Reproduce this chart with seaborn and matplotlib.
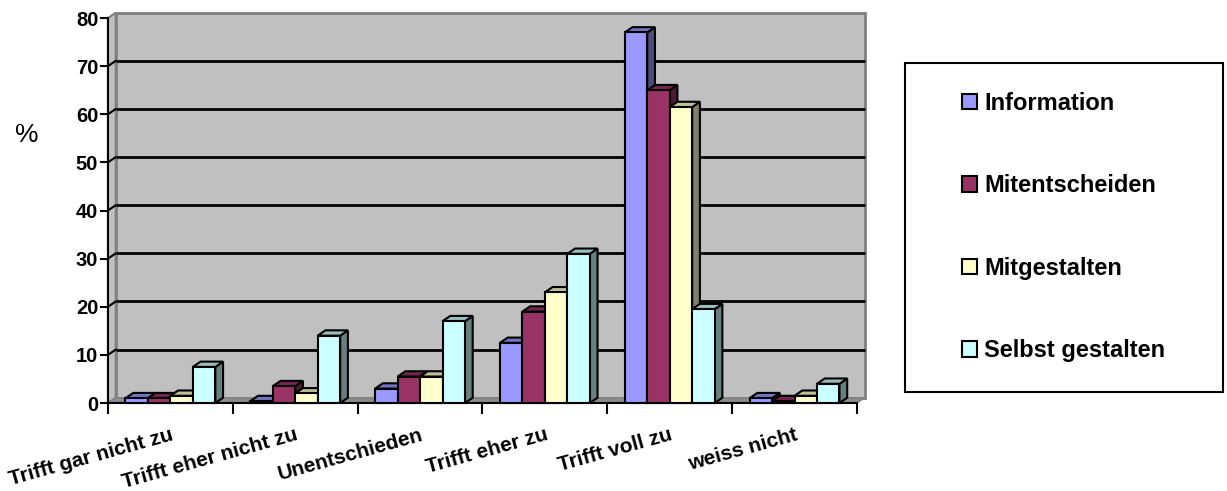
import numpy as np
import pandas as pd
import matplotlib
matplotlib.use("Agg")
import matplotlib.pyplot as plt
import seaborn as sns
from matplotlib.patches import Polygon, Patch, Rectangle
from matplotlib.colors import to_rgb

# Survey answers (percent) per participation level
categories = ["Trifft gar nicht zu", "Trifft eher nicht zu", "Unentschieden",
              "Trifft eher zu", "Trifft voll zu", "weiss nicht"]
series_names = ["Information", "Mitentscheiden", "Mitgestalten", "Selbst gestalten"]
information = [1.0, 0.4, 3.0, 12.5, 77.0, 1.0]
mitentscheiden = [1.0, 3.5, 5.5, 19.0, 65.0, 0.4]
mitgestalten = [1.5, 2.0, 5.5, 23.0, 61.5, 1.5]
selbst_gestalten = [7.5, 14.0, 17.0, 31.0, 19.5, 4.0]
y_ticks = [0, 10, 20, 30, 40, 50, 60, 70, 80]

palette = {"Information": "#9999FF", "Mitentscheiden": "#993366",
           "Mitgestalten": "#FFFFCC", "Selbst gestalten": "#CCFFFF"}

rows = []
for name, vals in zip(series_names, [information, mitentscheiden, mitgestalten, selbst_gestalten]):
    for cat, v in zip(categories, vals):
        rows.append({"Kategorie": cat, "Reihe": name, "Wert": v})
df = pd.DataFrame(rows)

sns.set_theme(style="white")
plt.rcParams["font.family"] = ["Liberation Sans", "DejaVu Sans"]
plt.rcParams["font.weight"] = "bold"
for key in ["text.color", "axes.labelcolor", "xtick.color", "ytick.color"]:
    plt.rcParams[key] = "black"

fig = plt.figure(figsize=(12.27, 4.91), dpi=100)
ax = fig.add_axes([0.088, 0.1792, 0.6104, 0.7841])

sns.barplot(data=df, x="Kategorie", y="Wert", hue="Reihe", order=categories,
            hue_order=series_names, palette=palette, width=0.72, gap=0,
            edgecolor="black", linewidth=1.5, saturation=1, legend=False, ax=ax)
bars = sorted([p for p in ax.patches if isinstance(p, Rectangle)], key=lambda p: p.get_x())

ymax = y_ticks[-1]
x_lo, x_hi = -0.5, len(categories) - 0.5
ax.set_xlim(x_lo, x_hi)
ax.set_ylim(0, ymax)

# depth offset of the pseudo-3D look, in data units
DX, DY = 0.062, 1.1

# back wall, side wall and floor
ax.add_patch(Polygon([(x_lo + DX, DY), (x_hi + DX, DY), (x_hi + DX, ymax + DY), (x_lo + DX, ymax + DY)],
                     closed=True, facecolor="#C0C0C0", edgecolor="#808080", lw=2, zorder=1, clip_on=False))
ax.add_patch(Polygon([(x_lo, 0), (x_lo + DX, DY), (x_lo + DX, ymax + DY), (x_lo, ymax)],
                     closed=True, facecolor="#C0C0C0", edgecolor="#808080", lw=1.5, zorder=2, clip_on=False))
ax.add_patch(Polygon([(x_lo, 0), (x_hi, 0), (x_hi + DX, DY), (x_lo + DX, DY)],
                     closed=True, facecolor="#8C8C8C", edgecolor="#808080", lw=1, zorder=2, clip_on=False))
for v in y_ticks[1:-1]:
    ax.plot([x_lo + DX, x_hi + DX], [v + DY, v + DY], color="black", lw=2, zorder=3, clip_on=False,
            solid_capstyle="butt")
    ax.plot([x_lo, x_lo + DX], [v, v + DY], color="black", lw=1.5, zorder=3, clip_on=False)

# extrude every bar: side and top faces
for k, bar in enumerate(bars):
    x0 = bar.get_x()
    x1 = x0 + bar.get_width()
    h = bar.get_height()
    base = np.array(to_rgb(bar.get_facecolor()))
    side = tuple(base * 0.5)
    top = tuple(base * 0.75)
    ax.add_patch(Polygon([(x1, 0), (x1 + DX, DY), (x1 + DX, h + DY), (x1, h)], closed=True,
                         facecolor=side, edgecolor="black", lw=1.5, zorder=10 + 2 * k,
                         clip_on=False, joinstyle="miter"))
    ax.add_patch(Polygon([(x0, h), (x1, h), (x1 + DX, h + DY), (x0 + DX, h + DY)], closed=True,
                         facecolor=top, edgecolor="black", lw=1.5, zorder=10 + 2 * k,
                         clip_on=False, joinstyle="miter"))
    bar.set_zorder(11 + 2 * k)
    bar.set_clip_on(False)

# axes styling
for s in ["top", "right"]:
    ax.spines[s].set_visible(False)
for s in ["left", "bottom"]:
    ax.spines[s].set_color("black")
    ax.spines[s].set_linewidth(1.5)
    ax.spines[s].set_zorder(4)

ax.set_yticks(y_ticks)
ax.set_yticklabels([str(t) for t in y_ticks])
ax.tick_params(axis="y", left=True, length=6, width=1.5, color="black", labelsize=14.5, pad=1)
ax.set_xticks(np.arange(x_lo, x_hi + 0.01, 1), minor=True)
ax.set_xticks(range(len(categories)))
ax.set_xticklabels(categories, rotation=15.5, ha="right", rotation_mode="anchor", fontsize=15)
ax.tick_params(axis="x", which="major", length=0, pad=16)
ax.tick_params(axis="x", which="minor", bottom=True, length=8, width=1.5, color="black")
for lbl in ax.get_xticklabels():
    lbl.set_va("top")
ax.set_xlabel("")
ax.set_ylabel("")

fig.text(27 / 1227, 1 - 135 / 491, "%", fontsize=19, fontweight="normal", ha="center", va="center")

# legend box
fig.add_artist(Rectangle((905 / 1227, 1 - 392 / 491), (1223 - 905) / 1227, (392 - 63) / 491,
                         transform=fig.transFigure, facecolor="white", edgecolor="black",
                         lw=1.5, zorder=0))
handles = [Patch(facecolor=palette[n], edgecolor="black", linewidth=1.5) for n in series_names]
fig.legend(handles, series_names, loc="center left", bbox_to_anchor=(962 / 1227, 1 - 227 / 491),
           frameon=False, prop={"weight": "bold", "size": 17}, handlelength=0.65, handleheight=0.65,
           handletextpad=0.3, labelspacing=2.52, borderpad=0, borderaxespad=0)

fig.savefig("out.png", dpi=100)
